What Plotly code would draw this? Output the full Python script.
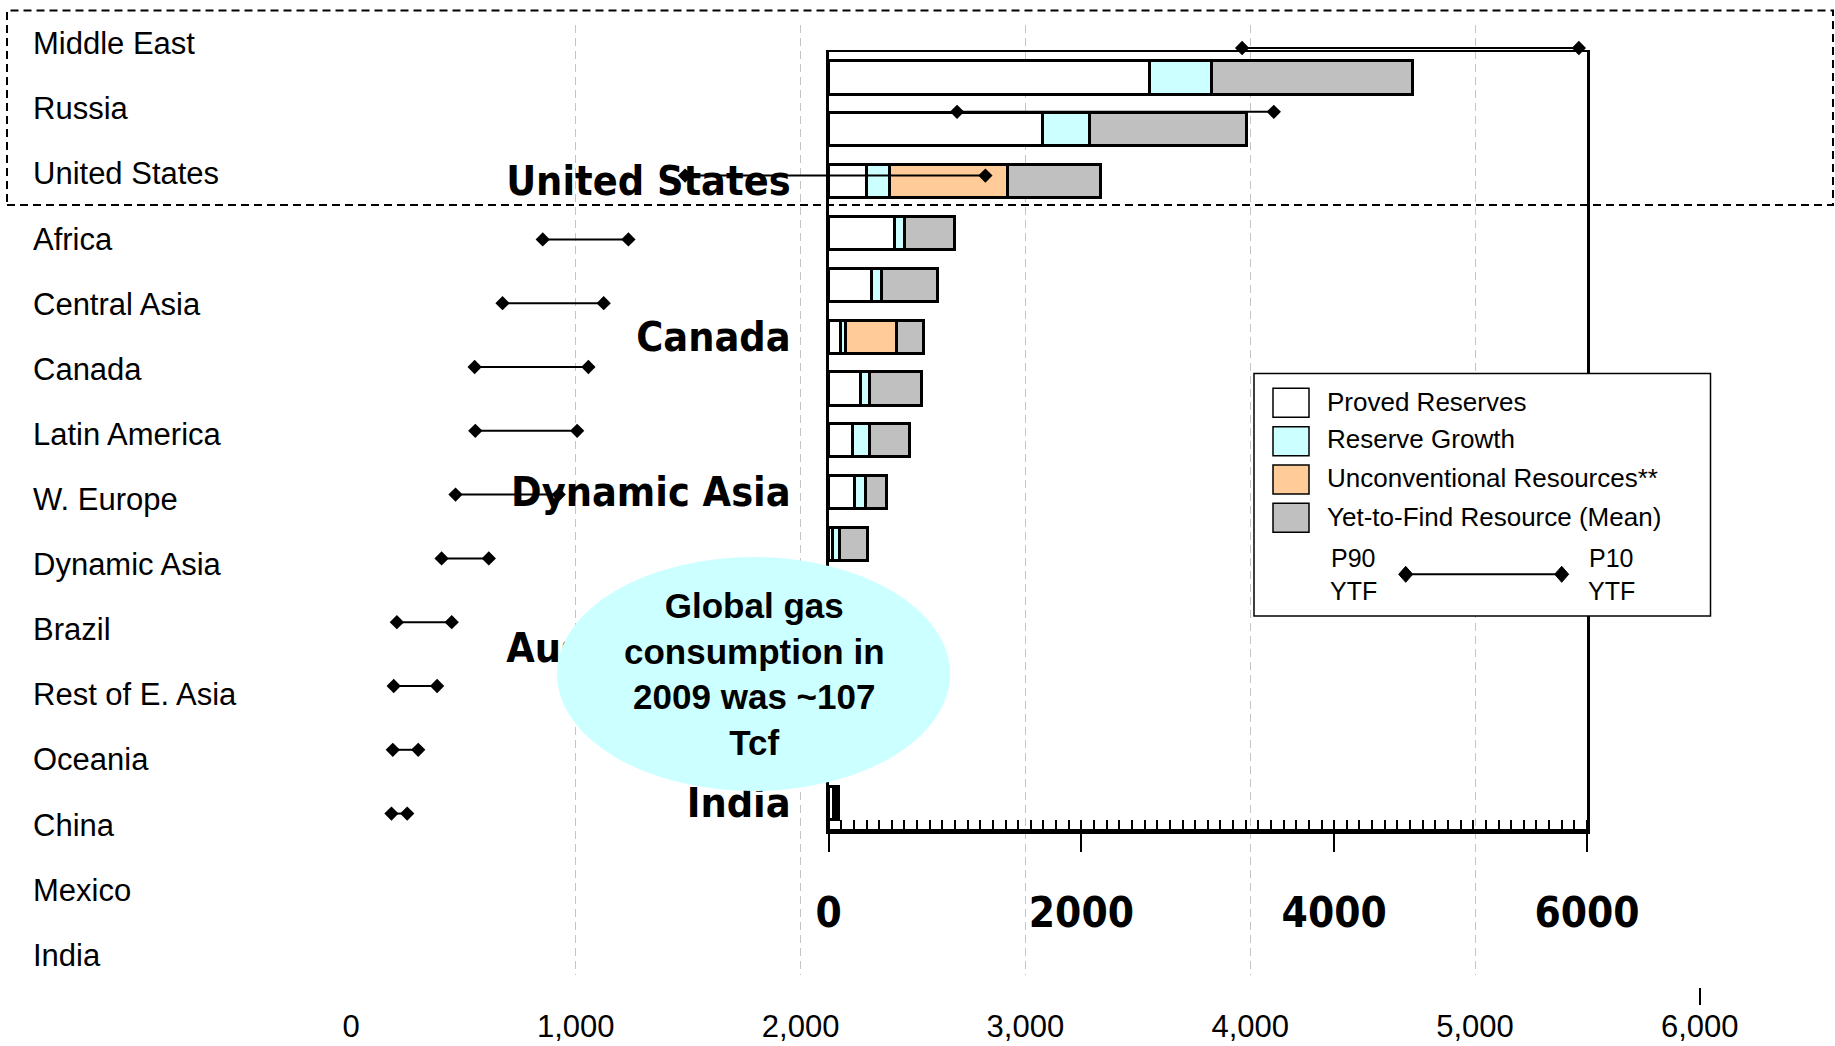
import plotly.graph_objects as go

W, H = 1835, 1046

# Regions, top to bottom
CATEGORIES = [
    "Middle East", "Russia", "United States", "Africa", "Central Asia",
    "Canada", "Latin America", "W. Europe", "Dynamic Asia", "Brazil",
    "Rest of E. Asia", "Oceania", "China", "Mexico", "India",
]

# Yet-to-find range (P90 low end, P10 high end), Tcf
P90_YTF = [3964, 2696, 1486, 853, 674, 550, 553, 465, 403, 204, 190, 186, 180, None, None]
P10_YTF = [5462, 4105, 2822, 1234, 1124, 1056, 1006, 924, 613, 448, 383, 299, 250, None, None]

# Resource build-up by region, Tcf
PROVED_RESERVES = [2541, 1695, 296, 521, 342, 92, 249, 191, 203, 31, 105, 115, 85, 15, 40]
RESERVE_GROWTH = [491, 366, 188, 76, 73, 45, 76, 134, 86, 54, 20, 25, 25, 20, 15]
UNCONVENTIONAL = [0, 0, 934, 0, 0, 399, 0, 0, 0, 0, 0, 0, 0, 0, 0]
YET_TO_FIND_MEAN = [1587, 1248, 731, 403, 449, 216, 411, 317, 166, 219, 100, 140, 60, 40, 20]

SERIES_NAMES = ["Proved Reserves", "Reserve Growth", "Unconventional Resources**",
                "Yet-to-Find Resource (Mean)"]
SERIES_COLORS = ["#FFFFFF", "#CCFFFF", "#FFCC99", "#C0C0C0"]

INNER_TICK_CATEGORIES = ["United States", "Canada", "Dynamic Asia", "Oceania", "India"]
INNER_TICK_TEXT = ["United States", "Canada", "Dynamic Asia", "Australia / NZ", "India"]
INNER_TICKS = [0, 2000, 4000, 6000]

OUTER_TICKS = [0, 1000, 2000, 3000, 4000, 5000, 6000]
OUTER_TICK_TEXT = ["0", "1,000", "2,000", "3,000", "4,000", "5,000", "6,000"]
OUTER_GRID = [1000, 2000, 3000, 4000, 5000]

NOTE_TEXT = "Global gas<br>consumption in<br>2009 was ~107<br>Tcf"

ARIAL = "Liberation Sans, Arial, sans-serif"
NARROW = "DejaVu Sans Condensed, Liberation Sans Narrow, Arial Narrow, sans-serif"


def fx(px):
    return px / W


def fy(px):
    return 1 - px / H


# outer scale: 0 sits at x=351px, 0.2248 px per Tcf
PX_PER_TCF = 0.2248
OUTER_LEFT = 30
OUTER_RANGE = [(OUTER_LEFT - 351) / PX_PER_TCF, (W - 351) / PX_PER_TCF]
FULL_RANGE = [-351 / PX_PER_TCF, (W - 351) / PX_PER_TCF]
OUTER_Y_DOMAIN = [fy(975), fy(25)]

fig = go.Figure()

# keeps the outer label/grid panel and the inner top edge in the layout
fig.add_trace(go.Scatter(x=[None], y=[None], xaxis="x", yaxis="y", mode="markers",
                         showlegend=False, hoverinfo="skip"))
fig.add_trace(go.Scatter(x=[None], y=[None], xaxis="x5", yaxis="y2", mode="markers",
                         showlegend=False, hoverinfo="skip"))

# stacked bars on the inner panel
for name, vals, col in zip(SERIES_NAMES,
                           [PROVED_RESERVES, RESERVE_GROWTH, UNCONVENTIONAL, YET_TO_FIND_MEAN],
                           SERIES_COLORS):
    fig.add_trace(go.Bar(
        y=CATEGORIES, x=vals, orientation="h", name=name,
        xaxis="x2", yaxis="y2", showlegend=False,
        marker=dict(color=col, line=dict(color="black", width=3)),
        hoverinfo="skip",
    ))

# P90 - P10 ranges on the outer scale
for cat, lo, hi in zip(CATEGORIES, P90_YTF, P10_YTF):
    if lo is None:
        continue
    fig.add_trace(go.Scatter(
        x=[lo, hi], y=[cat, cat], xaxis="x3", yaxis="y3",
        mode="lines+markers", showlegend=False, hoverinfo="skip",
        line=dict(color="black", width=2),
        marker=dict(symbol="diamond", size=11, color="black"),
    ))

axis_off = dict(showgrid=False, zeroline=False, automargin=False)

fig.update_layout(
    width=W, height=H,
    margin=dict(l=0, r=0, t=0, b=0),
    template="none",
    paper_bgcolor="white",
    plot_bgcolor="rgba(0,0,0,0)",
    font=dict(family=ARIAL, color="black"),
    barmode="stack",
    bargap=0.36,
    showlegend=False,
    # outer grid (dashed verticals) and region labels
    xaxis=dict(domain=[fx(OUTER_LEFT), 1], range=OUTER_RANGE, anchor="y",
               tickmode="array", tickvals=OUTER_GRID, showticklabels=False, ticks="",
               showgrid=True, gridcolor="#C4C4C4", gridwidth=1, griddash="8px,5px",
               zeroline=False, showline=False, automargin=False),
    yaxis=dict(domain=OUTER_Y_DOMAIN, range=[14.307, -0.281], anchor="x",
               tickmode="array", tickvals=list(range(len(CATEGORIES))), ticktext=CATEGORIES,
               ticklabelposition="inside", ticks="", showline=False,
               tickfont=dict(family=ARIAL, size=31, color="black"), **axis_off),
    # inner panel
    xaxis2=dict(domain=[fx(828.6), fx(1587)], range=[0, 6000], anchor="y2",
                tickmode="array", tickvals=INNER_TICKS,
                ticks="outside", ticklen=18, tickwidth=2, tickcolor="black",
                minor=dict(ticks="inside", dtick=100, ticklen=9, tickwidth=1.5,
                           tickcolor="black", showgrid=False),
                showline=True, linewidth=5, linecolor="black",
                ticklabelstandoff=25,
                tickfont=dict(family=NARROW, size=42, color="black", weight="bold"),
                **axis_off),
    yaxis2=dict(domain=[fy(829), fy(51.5)], type="category", categoryorder="array",
                categoryarray=CATEGORIES, range=[len(CATEGORIES) - 0.5, -0.5], anchor="x2",
                tickmode="array", tickvals=INNER_TICK_CATEGORIES, ticktext=INNER_TICK_TEXT,
                ticks="", showline=True, mirror=True, linewidth=2.5, linecolor="black",
                ticklabelstandoff=27,
                tickfont=dict(family=NARROW, size=41, color="black", weight="bold"),
                **axis_off),
    # thin top edge of the inner panel
    xaxis5=dict(overlaying="x2", side="top", anchor="y2", range=[0, 6000],
                showline=True, linewidth=2, linecolor="black",
                showticklabels=False, ticks="", **axis_off),
    # outer value axis labels
    xaxis3=dict(domain=[0, 1], range=FULL_RANGE, anchor="free", position=fy(987),
                tickmode="array", tickvals=OUTER_TICKS, ticktext=OUTER_TICK_TEXT,
                ticks="", showline=False, ticklabelstandoff=18,
                minor=dict(tickmode="array", tickvals=OUTER_TICKS[-1:], ticks="outside",
                           ticklen=17, tickwidth=1.5, tickcolor="black", showgrid=False),
                tickfont=dict(family=ARIAL, size=31, color="black"), **axis_off),
    yaxis3=dict(domain=OUTER_Y_DOMAIN, type="category", categoryorder="array",
                categoryarray=CATEGORIES, range=[14.53, -0.3605], anchor="x3",
                visible=False, **axis_off),
)

shapes = []
# dashed frame around the three largest regions
shapes.append(dict(type="rect", xref="paper", yref="paper",
                   x0=fx(7), x1=fx(1833), y0=fy(205), y1=fy(10.5),
                   line=dict(color="black", width=2, dash="8px,5px"), layer="above"))

# call-out ellipse
shapes.append(dict(type="circle", xref="paper", yref="paper",
                   x0=fx(557), x1=fx(950), y0=fy(791), y1=fy(557),
                   fillcolor="#CCFFFF", line=dict(width=0), layer="above"))

# legend box
shapes.append(dict(type="rect", xref="paper", yref="paper",
                   x0=fx(1254), x1=fx(1710.5), y0=fy(616), y1=fy(373.5),
                   fillcolor="white", line=dict(color="black", width=1.5), layer="above"))
row_tops = [388.3, 426.7, 465, 503.3]
for top, col in zip(row_tops, SERIES_COLORS):
    shapes.append(dict(type="rect", xref="paper", yref="paper",
                       x0=fx(1273), x1=fx(1309), y0=fy(top + 29), y1=fy(top),
                       fillcolor=col, line=dict(color="black", width=1.5), layer="above"))

# legend range sample
ly = 574.3
lx0, lx1 = 1405.7, 1561.7
shapes.append(dict(type="line", xref="paper", yref="paper",
                   x0=fx(lx0), x1=fx(lx1), y0=fy(ly), y1=fy(ly),
                   line=dict(color="black", width=2), layer="above"))
for cx in (lx0, lx1):
    path = "M {a},{b} L {c},{d} L {e},{b} L {c},{f} Z".format(
        a=fx(cx - 7), b=fy(ly), c=fx(cx), d=fy(ly - 8), e=fx(cx + 7), f=fy(ly + 8))
    shapes.append(dict(type="path", xref="paper", yref="paper", path=path,
                       fillcolor="black", line=dict(color="black", width=1), layer="above"))

annotations = []
label_mid = [401.7, 439, 478, 516.7]
for name, yc in zip(SERIES_NAMES, label_mid):
    annotations.append(dict(xref="paper", yref="paper", x=fx(1325), y=fy(yc),
                            text=name, showarrow=False, xanchor="left", yanchor="middle",
                            font=dict(family=ARIAL, size=26, color="black")))
for cx, top_word in ((1353, "P90"), (1611, "P10")):
    annotations.append(dict(xref="paper", yref="paper", x=fx(cx), y=fy(558),
                            text=top_word, showarrow=False, xanchor="center", yanchor="middle",
                            font=dict(family=ARIAL, size=25, color="black")))
    annotations.append(dict(xref="paper", yref="paper", x=fx(cx), y=fy(591),
                            text="YTF", showarrow=False, xanchor="center", yanchor="middle",
                            font=dict(family=ARIAL, size=25, color="black")))

annotations.append(dict(xref="paper", yref="paper", x=fx(754), y=fy(674),
                        text=NOTE_TEXT, showarrow=False, xanchor="center", yanchor="middle",
                        align="center",
                        font=dict(family=ARIAL, size=35, color="black", weight="bold")))

fig.update_layout(shapes=shapes, annotations=annotations)

fig.write_html("out.html")
